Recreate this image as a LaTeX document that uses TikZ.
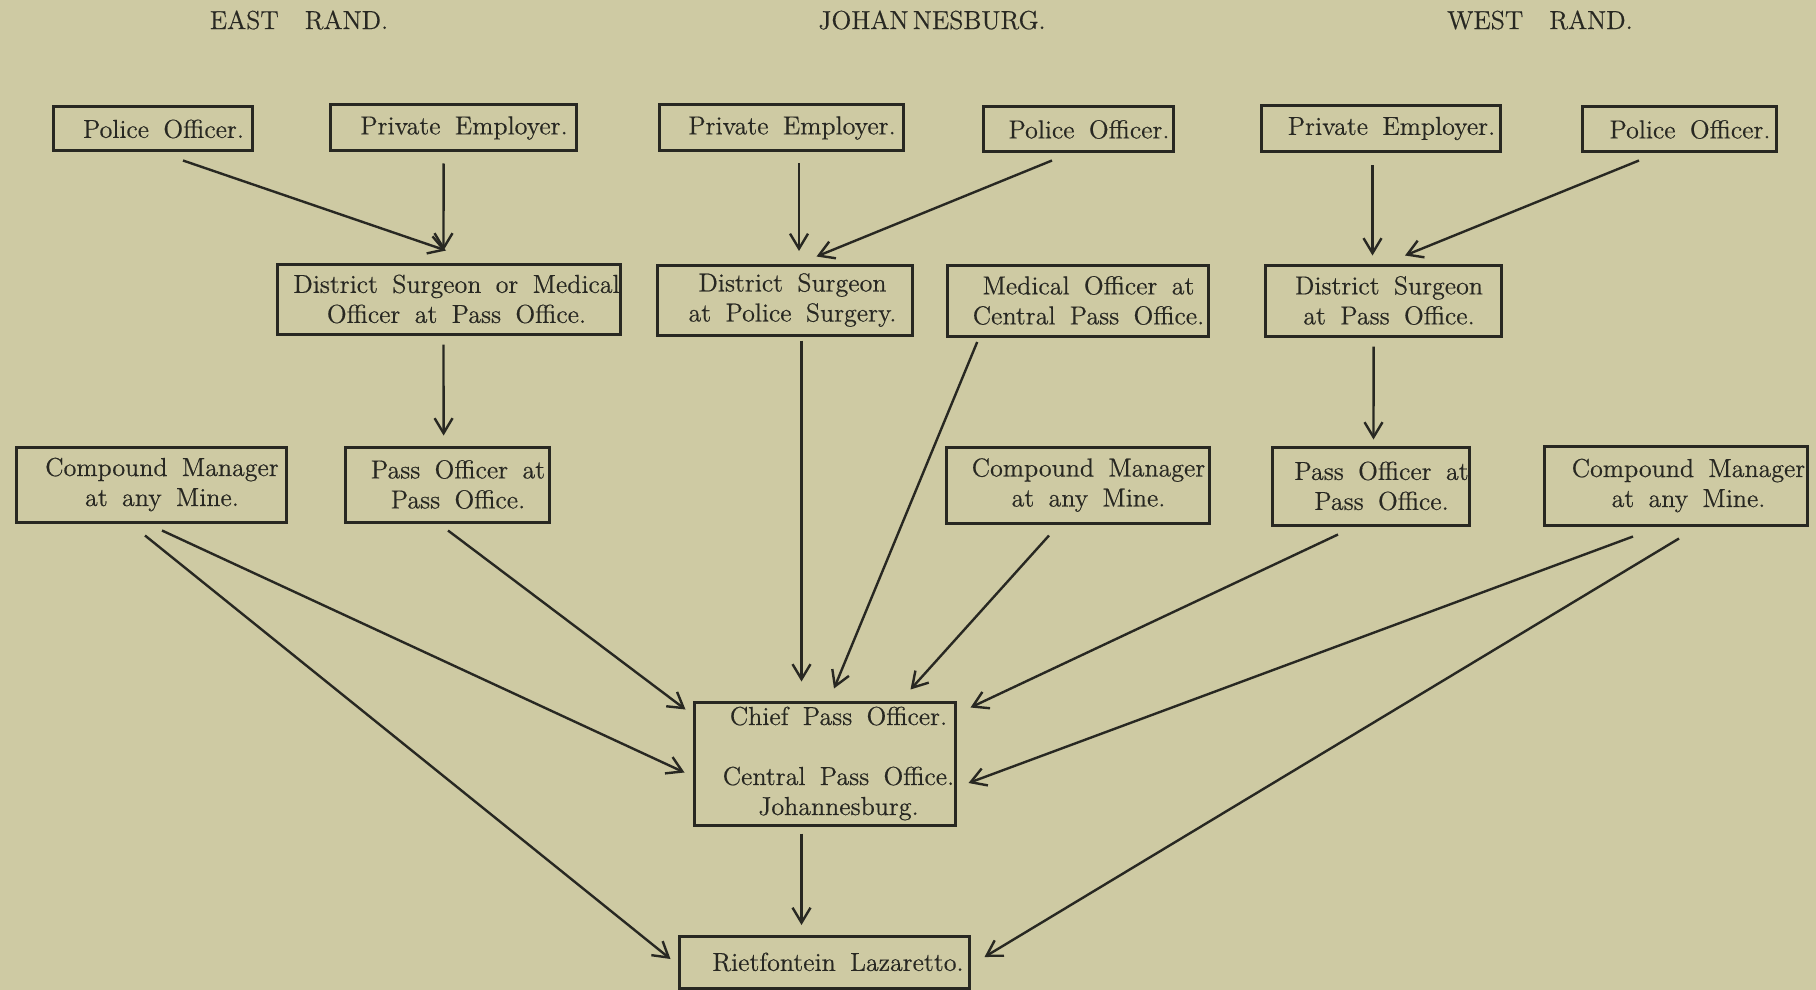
\documentclass[tikz,border=0pt]{standalone}
\usepackage{fontspec}
\setmainfont{Latin Modern Roman}[FakeBold=0.5]
\usetikzlibrary{arrows.meta}
\definecolor{paper}{RGB}{206,202,163}
\definecolor{ink}{RGB}{40,40,34}
\newcommand\sh[1][11pt]{\hspace*{#1}}
\newcommand\bxfont{\fontsize{13}{15}\selectfont\spaceskip=0.55em plus 0.1em minus 0.05em\relax}
\newcommand\hdfont{\fontsize{13}{15}\selectfont}
\tikzset{
 bx/.style={draw=ink, line width=1.5pt, inner sep=0pt, align=center, text=ink, font=\bxfont},
 hd/.style={text=ink, font=\hdfont},
 arr/.style={draw=ink, line width=1.2pt, -{Straight Barb[length=7.5pt,width=9pt,line width=1.2pt]}},
}
\begin{document}
\begin{tikzpicture}[x=0.5pt,y=-0.5pt]
\fill[paper] (0,0) rectangle (1816,990);
\useasboundingbox (0,0) rectangle (1816,990);
% headings
\node[hd] (tE) at (299,20) {EAST\hspace{1em}RAND.};
\node[hd] (tJ) at (932,20) {JOHAN\,NESBURG.};
\node[hd] (tW) at (1540,20) {WEST\hspace{1em}RAND.};
% row 1
\node[bx, minimum width=99.5pt, minimum height=22pt] (pE) at (152.5,129) {\sh Police Officer.};
\node[bx, minimum width=123pt, minimum height=23pt] (eE) at (453,128) {\sh Private Employer.};
\node[bx, minimum width=122pt, minimum height=23pt] (eJ) at (781,128) {\sh Private Employer.};
\node[bx, minimum width=95pt, minimum height=22.5pt] (pJ) at (1078,129.5) {\sh Police Officer.};
\node[bx, minimum width=119.5pt, minimum height=23pt] (eW) at (1380.5,128.5) {\sh Private Employer.};
\node[bx, minimum width=97pt, minimum height=22.5pt] (pW) at (1679,129.5) {\sh Police Officer.};
% row 2
\node[bx, minimum width=171.5pt, minimum height=35pt] (dE) at (448.5,299) {\sh[8pt]District Surgeon or Medical\\\sh[8pt]Officer at Pass Office.};
\node[bx, minimum width=127.5pt, minimum height=35pt] (dJ) at (784.5,300) {\sh[8pt]District Surgeon\\\sh[8pt]at Police Surgery.};
\node[bx, minimum width=130.5pt, minimum height=35.5pt] (mJ) at (1077.5,300.5) {\sh[11pt]Medical Officer at\\\sh[11pt]Central Pass Office.};
\node[bx, minimum width=118pt, minimum height=35.5pt] (dW) at (1383,300.5) {\sh[6pt]District Surgeon\\\sh[6pt]at Pass Office.};
% row 3
\node[bx, minimum width=135pt, minimum height=37.5pt] (cE) at (151,484.5) {\sh Compound Manager\\\sh at any Mine.};
\node[bx, minimum width=102pt, minimum height=37.5pt] (poE) at (447,484.5) {\sh Pass Officer at\\\sh Pass Office.};
\node[bx, minimum width=131.5pt, minimum height=38pt] (cJ) at (1077.5,485) {\sh Compound Manager\\\sh at any Mine.};
\node[bx, minimum width=98.5pt, minimum height=39pt] (poW) at (1370.5,486) {\sh Pass Officer at\\\sh Pass Office.};
\node[bx, minimum width=131.5pt, minimum height=39.5pt] (cW) at (1675.5,485.5) {\sh[13pt]Compound Manager\\\sh[13pt]at any Mine.};
% row 4
\node[bx, minimum width=130.5pt, minimum height=61.5pt] (chief) at (824.5,763.5) {\sh[14pt]Chief Pass Officer.\\[15pt]\sh[14pt]Central Pass Office.\\\sh[14pt]Johannesburg.};
\node[bx, minimum width=145pt, minimum height=26pt] (riet) at (824,962) {\sh[14pt]Rietfontein Lazaretto.};
% arrows
\draw[arr] ([shift={(30.5,8)}]pE.south) -- ([shift={(-2.5,-12)}]dE.north);
\draw[arr] ([shift={(-9.4,11)}]eE.south) -- ([shift={(-5,-12)}]dE.north);
\draw[arr] ([shift={(-5,9)}]dE.south) -- ([shift={(-3.4,-10)}]poE.north);
\draw[arr] ([shift={(1,7)}]poE.south) -- ([shift={(-7,9)}]chief.north west);
\draw[arr] ([shift={(11,7)}]cE.south) -- ([shift={(-8,9)}]chief.west);
\draw[arr] ([shift={(-6,12)}]cE.south) -- ([shift={(-7,-3)}]riet.west);
\draw[arr] ([shift={(18,11)}]eJ.south) -- ([shift={(14.5,-12.5)}]dJ.north);
\draw[arr] ([shift={(-26,7)}]pJ.south) -- ([shift={(32,-7)}]dJ.north);
\draw[arr] ([shift={(17,4)}]dJ.south) -- ([shift={(-23,-19)}]chief.north);
\draw[arr] ([shift={(31.7,4.5)}]mJ.south west) -- ([shift={(9.5,-12)}]chief.north);
\draw[arr] ([shift={(-28.5,11)}]cJ.south) -- ([shift={(-46,-11)}]chief.north east);
\draw[arr] ([shift={(-32.5,8)}]poW.south) -- ([shift={(14,7)}]chief.north east);
\draw[arr] ([shift={(-42.5,10)}]cW.south) -- ([shift={(12,19.5)}]chief.east);
\draw[arr] ([shift={(3.5,12)}]cW.south) -- ([shift={(14,-5)}]riet.east);
\draw[arr] ([shift={(-8,12.5)}]eW.south) -- ([shift={(-10.5,-8)}]dW.north);
\draw[arr] ([shift={(-40,7)}]pW.south) -- ([shift={(22,-8)}]dW.north);
\draw[arr] ([shift={(-9.4,9)}]dW.south) -- ([shift={(3,-6)}]poW.north);
\draw[arr] ([shift={(-23,7)}]chief.south) -- ([shift={(-22.5,-9.5)}]riet.north);
\end{tikzpicture}
\end{document}
